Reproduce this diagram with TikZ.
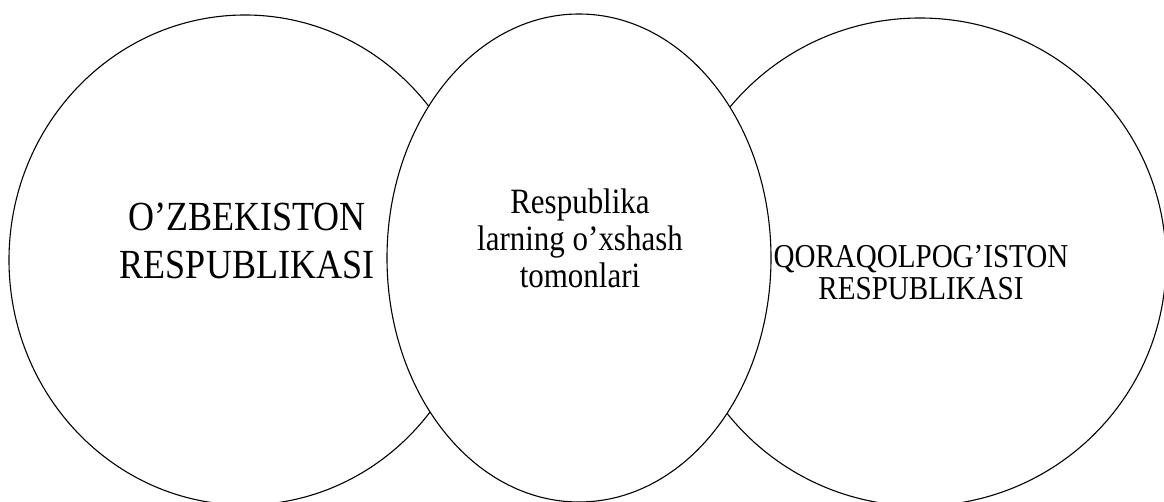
\documentclass[tikz,border=0pt]{standalone}
\usepackage{fontspec}
\setmainfont{Liberation Serif}[FakeStretch=0.87]
\usetikzlibrary{shapes.geometric}

\begin{document}
\begin{tikzpicture}[x=1pt, y=-1pt,
  oval/.style={draw, ellipse, line width=1.1pt, fill=white, inner sep=0pt},
  caption/.style={align=center, inner sep=0pt}]
  \useasboundingbox (0,0) rectangle (1164,502);
  \clip (0,0) rectangle (1164,502);

  % outer circles first, the middle one lies over both
  \node[oval, minimum width=472pt, minimum height=490pt] (uzb) at (245,260) {};
  \node[oval, minimum width=492pt, minimum height=488pt] (qqr) at (920,262) {};
  \node[oval, minimum width=384pt, minimum height=488pt] (common) at (579,258) {};

  \node[caption, font=\fontsize{41.4}{48}\selectfont] (uzbtext) at (247,241) {O'ZBEKISTON\\RESPUBLIKASI};
  \node[caption, font=\fontsize{35.6}{37}\selectfont] (commontext) at (580,238) {Respublika\\larning o'xshash\\tomonlari};
  \node[caption, font=\fontsize{33.4}{32}\selectfont] (qqrtext) at (921,273) {QORAQOLPOG'ISTON\\RESPUBLIKASI};
\end{tikzpicture}
\end{document}
